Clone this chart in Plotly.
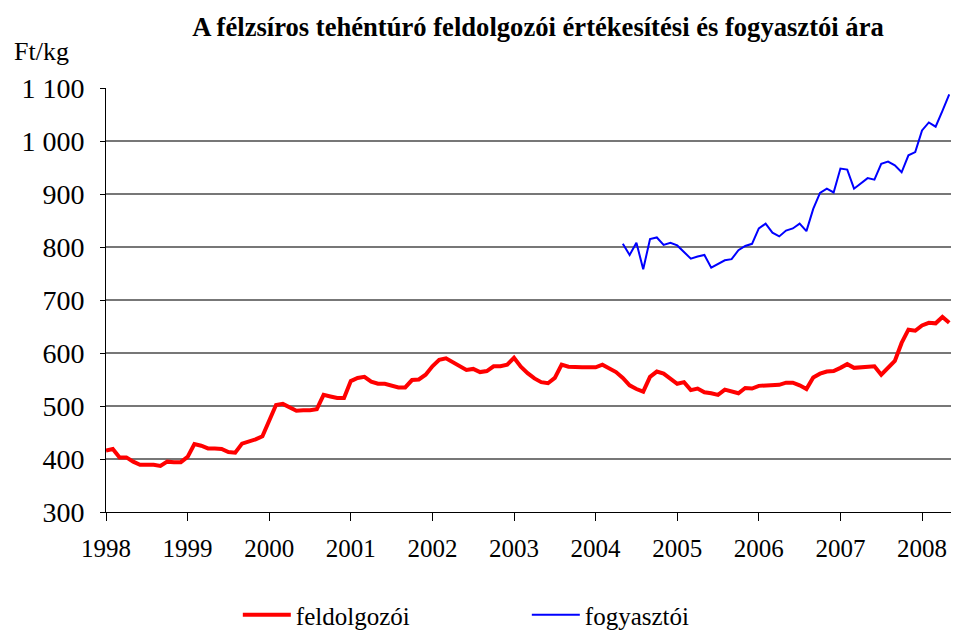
import plotly.graph_objects as go

# havi adatok, 1998 január - 2008 május
feldolgozoi = [
    416, 419, 403, 403, 395, 389, 389, 389, 387, 395, 394, 394,
    404, 428, 425, 420, 420, 419, 413, 412, 429, 433, 437, 443,
    474, 502, 504, 497, 491, 492, 492, 494, 521, 518, 515, 515,
    547, 553, 555, 546, 542, 542, 539, 535, 535, 549, 550, 559,
    575, 587, 590, 582, 575, 568, 570, 564, 566, 575, 575, 578,
    591, 574, 562, 552, 545, 543, 553, 578, 574, 573, 573, 573,
    573, 578, 570, 564, 553, 539, 532, 527, 555, 565, 561, 551,
    542, 545, 530, 533, 526, 524, 521, 531, 528, 524, 534, 533,
    538, 539, 539, 540, 544, 544, 539, 532, 554, 561, 565, 566,
    572, 579, 572, 573, 574, 575, 559, 571, 585, 619, 644, 642,
    652, 657, 656, 668, 657,
]
# fogyasztói ár 2004 május-tól
fogyasztoi = [
    806, 785, 808, 758, 815, 818, 804, 808, 803, 790, 778, 782,
    785, 761, 768, 775, 777, 794, 802, 806, 835, 844, 827, 820,
    831, 835, 844, 830, 872, 902, 910, 903, 948, 946, 910, 920,
    930, 927, 957, 961, 954, 941, 973, 979, 1020, 1035, 1027, 1057,
    1088,
]
fogy_start = 76

x_red = [1998 + i / 12 for i in range(len(feldolgozoi))]
x_blue = [1998 + (fogy_start + i) / 12 for i in range(len(fogyasztoi))]

year_ticks = list(range(1998, 2009))
y_ticks = [300, 400, 500, 600, 700, 800, 900, 1000, 1100]
y_labels = ["300", "400", "500", "600", "700", "800", "900", "1 000", "1 100"]

serif = "Liberation Serif"
W, H = 954, 633

fig = go.Figure()
fig.add_trace(go.Scatter(
    x=x_red, y=feldolgozoi, mode="lines", name="feldolgozói",
    line=dict(color="#ff0000", width=4)
))
fig.add_trace(go.Scatter(
    x=x_blue, y=fogyasztoi, mode="lines", name="fogyasztói",
    line=dict(color="#0000ff", width=2)
))

fig.update_layout(
    width=W, height=H,
    margin=dict(l=106, r=3, t=88, b=121, autoexpand=False),
    paper_bgcolor="white", plot_bgcolor="white",
    font=dict(family=serif, size=24, color="black"),
    title=dict(
        text="<b>A félzsíros tehéntúró feldolgozói értékesítési és fogyasztói ára</b>",
        x=538 / W, xanchor="center", y=1 - 27 / H, yanchor="middle",
        font=dict(family=serif, size=26.6)
    ),
    legend=dict(
        orientation="h", x=0.156, xanchor="left", y=-0.243, yanchor="middle",
        entrywidth=226, entrywidthmode="pixels", itemwidth=48,
        font=dict(family=serif, size=25)
    ),
    annotations=[dict(
        text="Ft/kg", xref="paper", yref="paper",
        x=-94 / 845, xanchor="left",
        y=(512 - 52) / 424, yanchor="middle",
        showarrow=False, font=dict(family=serif, size=26)
    )],
)

fig.update_xaxes(
    range=[1998, 2008.355], tickvals=year_ticks,
    ticks="outside", ticklen=8, tickcolor="black",
    showline=True, linecolor="black", linewidth=1,
    showgrid=False, zeroline=False, ticklabelstandoff=6,
    automargin=False, tickfont=dict(family=serif, size=25)
)
fig.update_yaxes(
    range=[300, 1100], tickvals=y_ticks, ticktext=y_labels,
    ticks="outside", ticklen=5, tickcolor="black",
    showline=True, linecolor="black", linewidth=1,
    showgrid=True, gridcolor="#777777", gridwidth=1.5,
    zeroline=False, ticklabelstandoff=10,
    automargin=False, tickfont=dict(family=serif, size=28)
)

# az oldal alapértelmezett 8px margója nélkül a teljes ablakot kitölti
fig.write_html(
    "out.html",
    config={"displayModeBar": False},
    post_script="document.body.style.margin='0';"
)
